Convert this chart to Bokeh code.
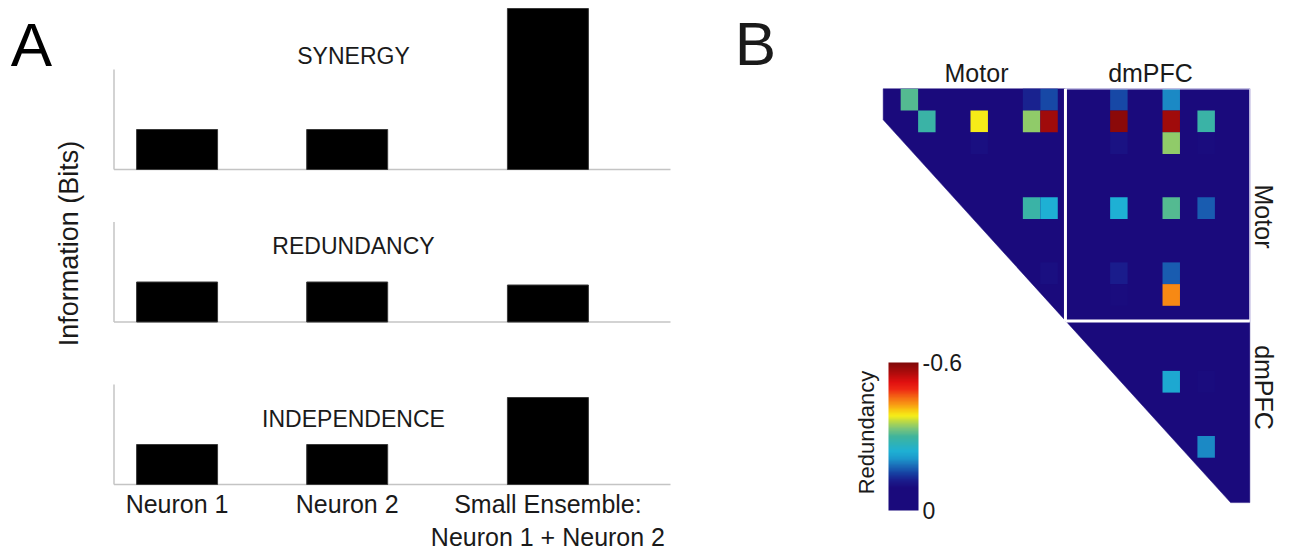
import numpy as np
from bokeh.plotting import figure
from bokeh.models import (FactorRange, Range1d, Label, ColorBar, LinearColorMapper,
                          FixedTicker, NumeralTickFormatter, ColumnDataSource)
from bokeh.layouts import row
from bokeh.embed import file_html
from bokeh.resources import INLINE
from bokeh.core.properties import value

# ---------------- Panel A data ----------------
groups = ["single", "single", "ensemble"]
categories = ["Neuron 1", "Neuron 2", "Small Ensemble:\nNeuron 1 + Neuron 2"]
synergy = [0.40, 0.40, 1.61]
redundancy = [0.40, 0.40, 0.37]
independence = [0.40, 0.40, 0.87]
panel_titles = ["SYNERGY", "REDUNDANCY", "INDEPENDENCE"]
y_label = "Information (Bits)"

# ---------------- Panel B data ----------------
n_cols = 21
n_rows = 19
cell_rows = [0, 0, 0, 0, 0,
             1, 1, 1, 1, 1, 1, 1,
             2, 2, 2, 2,
             5, 5, 5, 5, 5,
             8, 8, 8,
             9, 9,
             13, 13,
             16]
cell_cols = [1, 8, 9, 13, 16,
             2, 5, 8, 9, 13, 16, 18,
             5, 13, 16, 18,
             8, 9, 13, 16, 18,
             9, 13, 16,
             13, 16,
             16, 18,
             18]
cell_vals = [-0.31, -0.125, -0.155, -0.155, -0.20,
             -0.29, -0.385, -0.34, -0.57, -0.59, -0.57, -0.29,
             -0.10, -0.105, -0.34, -0.095,
             -0.29, -0.24, -0.24, -0.31, -0.17,
             -0.10, -0.12, -0.17,
             -0.095, -0.44,
             -0.23, -0.095,
             -0.20]
cbar_ticks = [-0.6, 0.0]
region_labels = ["Motor", "dmPFC"]
cbar_title = "Redundancy"

# colour map (fraction 0 = value 0, 1 = value -0.6)
cmap_stops = [0.00, 0.15, 0.20, 0.25, 0.30, 0.35, 0.40, 0.45, 0.50, 0.55, 0.60,
              0.64, 0.68, 0.72, 0.77, 0.82, 0.87, 0.93, 1.00]
cmap_colors = ["#1a0a7c", "#1a0a7c", "#1a1c8c", "#1640a2", "#1a6cb8", "#1c98cc",
               "#1eb0d4", "#2eb2b8", "#40b49c", "#78c47c", "#b8d848", "#f6ee18",
               "#f8c812", "#f89614", "#f46414", "#ee2814", "#e01010", "#b00c0c", "#800808"]


def build_palette(stops, colors, n=256):
    rgb = np.array([[int(c[i:i + 2], 16) for i in (1, 3, 5)] for c in colors], float)
    t = np.linspace(0, 1, n)
    ch = [np.interp(t, stops, rgb[:, k]) for k in range(3)]
    return ["#%02x%02x%02x" % tuple(int(round(ch[k][i])) for k in range(3)) for i in range(n)]


palette = build_palette(cmap_stops, cmap_colors)

FONT = "Liberation Sans"
WA, WB, H = 724, 569, 551

# ---------------- Panel A figure ----------------
factors = list(zip(groups, categories))
GROUP_PAD, RANGE_PAD = 0.18, 0.538   # absolute padding, applied on each side
xr = FactorRange(*factors, group_padding=GROUP_PAD, factor_padding=0.0,
                 range_padding=RANGE_PAD, range_padding_units="absolute")
pA = figure(width=WA, height=H, x_range=xr, y_range=Range1d(H, 0),
            output_backend="svg", toolbar_location=None,
            x_axis_location=None, y_axis_location=None, min_border=0)
pA.outline_line_color = None
pA.grid.visible = False

# pixel -> synthetic categorical coordinate (layout helper for axis lines)
syn_start = -RANGE_PAD
syn_span = len(factors) + GROUP_PAD + 2 * RANGE_PAD


def px_to_syn(px):
    return syn_start + px / WA * syn_span


baselines_px = [169, 321.5, 484]   # layout: baseline pixel of each sub-panel
unit_px = 100.0                     # layout: pixels per unit
range_names = ["syn", "red", "ind"]
pA.extra_y_ranges = {nm: Range1d(-(H - b) / unit_px, b / unit_px)
                     for nm, b in zip(range_names, baselines_px)}

ax0, ax1 = px_to_syn(113.5), px_to_syn(670)
for nm, vals in zip(range_names, [synergy, redundancy, independence]):
    pA.segment(x0=[ax0, ax0], y0=[0, 0], x1=[ax0, ax1], y1=[1.0, 0],
               y_range_name=nm, line_color="#c4c4c4", line_width=1.5)
    pA.vbar(x=factors, top=vals, bottom=0, width=0.476, y_range_name=nm,
            fill_color="#000000", line_color="#3a3a3a", line_width=1)

title_y = [55, 245, 418]
for t, ty in zip(panel_titles, title_y):
    pA.add_layout(Label(x=353, y=ty, x_units="screen", text=t, text_align="center",
                        text_baseline="middle", text_font=FONT, text_font_size="23px",
                        text_color="#1a1a1a"))

pA.text(x=factors, y=[-0.05] * len(factors), text=categories, y_range_name="ind",
        text_align="center", text_baseline="top", text_font=value(FONT),
        text_font_size="25px", text_color="#1a1a1a", text_line_height=1.2)

pA.add_layout(Label(x=31, y=44, x_units="screen", text="A", text_align="center",
                    text_baseline="middle", text_font=FONT, text_font_size="62px",
                    text_color="#000000"))
pA.add_layout(Label(x=68, y=243, x_units="screen", text=y_label, angle=np.pi / 2,
                    text_align="center", text_baseline="middle", text_font=FONT,
                    text_font_size="27px", text_color="#1a1a1a"))

# ---------------- Panel B figure ----------------
col_px, row_px = 17.457, 21.7       # layout: cell size in pixels
left_px, top_px = 158.7, 88.3       # layout: matrix origin inside panel
pB = figure(width=WB, height=H,
            x_range=Range1d(-left_px / col_px, (WB - left_px) / col_px),
            y_range=Range1d((H - top_px) / row_px, -top_px / row_px),
            output_backend="svg", toolbar_location=None,
            x_axis_location=None, y_axis_location=None, min_border=0)
pB.outline_line_color = None
pB.grid.visible = False
pB.extra_x_ranges = {"px": Range1d(0, WB)}
pB.extra_y_ranges = {"px": Range1d(H, 0)}

mapper = LinearColorMapper(palette=palette, low=0.0, high=-0.6)

# upper-triangle mask (diagonal edge)
rows_vis = 19.07
diag_top_row = 1.43
diag_end_col = 19.9
pB.patch(x=[0, n_cols, n_cols, diag_end_col, 0],
         y=[0, 0, rows_vis, rows_vis, diag_top_row],
         fill_color=palette[0], line_color=palette[0], line_width=0.5)

src = ColumnDataSource(dict(x=[c + 0.5 for c in cell_cols], y=[r + 0.5 for r in cell_rows],
                            v=cell_vals))
pB.rect(x="x", y="y", width=1, height=1, source=src,
        fill_color={"field": "v", "transform": mapper}, line_color=None)

split_col, split_row = 10.44, 10.70
pB.quad(left=split_col, right=n_cols, top=0, bottom=split_row, fill_alpha=0,
        line_color="#d6d2f0", line_width=1.2)
pB.segment(x0=[split_col, split_col], y0=[0, split_row], x1=[split_col, n_cols],
           y1=[split_row, split_row], line_color="#ffffff", line_width=3)

cb = ColorBar(color_mapper=mapper, location=(164, 41), width=30, height=148,
              padding=0, margin=0, ticker=FixedTicker(ticks=cbar_ticks),
              formatter=NumeralTickFormatter(format="0.[0]"),
              major_tick_line_color=None, major_label_text_font_size="23px",
              major_label_text_font=FONT, major_label_text_color="#1a1a1a",
              label_standoff=4, bar_line_color=None, border_line_color=None,
              background_fill_alpha=0)
pB.add_layout(cb)

lab = dict(x_range_name="px", y_range_name="px", text_align="center",
           text_baseline="middle", text_font=FONT, text_color="#1a1a1a")
pB.add_layout(Label(x=31, y=43, text="B", text_font_size="62px", **lab))
pB.add_layout(Label(x=252, y=72, text=region_labels[0], text_font_size="25px", **lab))
pB.add_layout(Label(x=426, y=72, text=region_labels[1], text_font_size="25px", **lab))
pB.add_layout(Label(x=539, y=216, text=region_labels[0], angle=-np.pi / 2,
                    text_font_size="25px", **lab))
pB.add_layout(Label(x=539, y=387, text=region_labels[1], angle=-np.pi / 2,
                    text_font_size="25px", **lab))
pB.add_layout(Label(x=142, y=432, text=cbar_title, angle=np.pi / 2,
                    text_font_size="22px", **lab))

layout = row(pA, pB)
open("out.html", "w").write(file_html(layout, INLINE))
